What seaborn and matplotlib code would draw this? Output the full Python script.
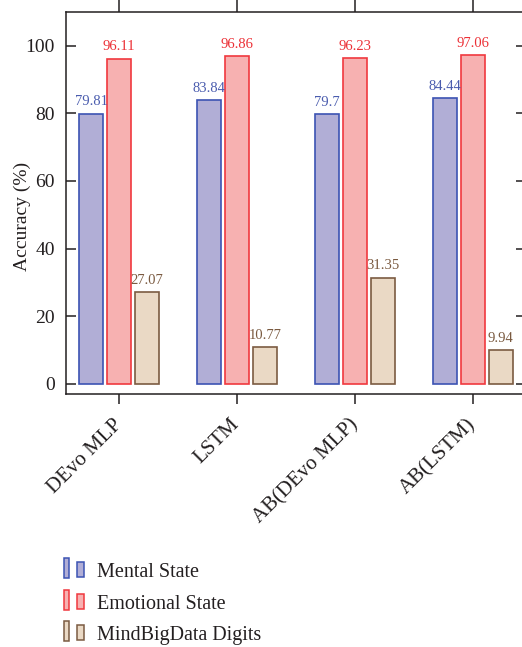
import matplotlib
matplotlib.use("Agg")
import matplotlib.pyplot as plt
import seaborn as sns
import pandas as pd
from matplotlib.patches import Rectangle
from matplotlib.legend_handler import HandlerBase

models = ["DEvo MLP", "LSTM", "AB(DEvo MLP)", "AB(LSTM)"]
datasets = ["Mental State", "Emotional State", "MindBigData Digits"]
mental = [79.81, 83.84, 79.7, 84.44]
emotional = [96.11, 96.86, 96.23, 97.06]
digits = [27.07, 10.77, 31.35, 9.94]
yticks = [0, 20, 40, 60, 80, 100]

fills = ["#b1aed6", "#f7b1b1", "#ead9c5"]
edges = ["#3c53b3", "#f0383e", "#7b5b42"]
label_colors = ["#4a5cae", "#ec3036", "#7a5a40"]

rows = []
for ds, vals in zip(datasets, [mental, emotional, digits]):
    for m, v in zip(models, vals):
        rows.append({"model": m, "dataset": ds, "acc": v})
df = pd.DataFrame(rows)

sns.set_theme(style="white")
plt.rcParams["font.family"] = ["Liberation Serif", "DejaVu Serif"]
text_color = "#231f20"

fig = plt.figure(figsize=(5.22, 6.47), dpi=100)
W, H = 522, 647
ax = fig.add_axes([66 / W, 1 - 394 / H, 460 / W, (394 - 11.7) / H])

sns.barplot(data=df, x="model", y="acc", hue="dataset", order=models,
            hue_order=datasets, palette=fills, width=0.71, gap=0.14,
            linewidth=1.2, legend=False, ax=ax, saturation=1)

for cont, ec, lc in zip(ax.containers, edges, label_colors):
    for bar in cont:
        bar.set_edgecolor(ec)
        bar.set_linewidth(1.2)
    ax.bar_label(cont, fmt="{:g}", padding=4, color=lc, fontsize=10.5)

ax.set_xlim(-0.45, 3.45)
ax.set_ylim(-3, 110)
ax.set_yticks(yticks)
ax.set_xlabel("")
ax.set_ylabel("Accuracy (%)", fontsize=14, color=text_color)
ax.yaxis.set_label_coords(-0.077, 0.465)

for s in ["left", "bottom", "top", "right"]:
    ax.spines[s].set_visible(True)
    ax.spines[s].set_color(text_color)
    ax.spines[s].set_linewidth(1.1)

ax.tick_params(axis="y", which="both", left=True, right=True, direction="in",
               length=7, width=1.1, color=text_color, labelsize=14,
               labelcolor=text_color, pad=8)
ax.tick_params(axis="x", which="both", bottom=True, top=True, direction="out",
               length=7, width=1.1, color=text_color, labelsize=15,
               labelcolor=text_color, pad=13)
ax.xaxis.set_tick_params(which="major", top=True, labeltop=False)
for t in ax.xaxis.get_major_ticks():
    t.tick2line.set_markersize(9)

for lbl in ax.get_xticklabels():
    lbl.set_rotation(45)
    lbl.set_ha("right")
    lbl.set_va("center")
    lbl.set_rotation_mode("anchor")


class TwinBars(HandlerBase):
    def create_artists(self, legend, orig_handle, xdescent, ydescent,
                       width, height, fontsize, trans):
        fc = orig_handle.get_facecolor()
        ec = orig_handle.get_edgecolor()
        x0, y0 = -xdescent, -ydescent
        r1 = Rectangle((x0, y0 - 0.7), 3.6, 14.4, facecolor=fc, edgecolor=ec,
                       linewidth=1.1, transform=trans)
        r2 = Rectangle((x0 + 9.4, y0), 5.0, 10.8, facecolor=fc, edgecolor=ec,
                       linewidth=1.1, transform=trans)
        return [r1, r2]


handles = [Rectangle((0, 0), 1, 1, facecolor=f, edgecolor=e)
           for f, e in zip(fills, edges)]
leg = fig.legend(handles, datasets, loc="upper left",
                 bbox_to_anchor=(64 / W, 1 - 563 / H),
                 frameon=False, fontsize=14.5, borderpad=0, borderaxespad=0,
                 handlelength=1.03, handletextpad=0.62, labelspacing=0.62,
                 handler_map={Rectangle: TwinBars()})
for t in leg.get_texts():
    t.set_color(text_color)

fig.savefig("out.png", dpi=100)
